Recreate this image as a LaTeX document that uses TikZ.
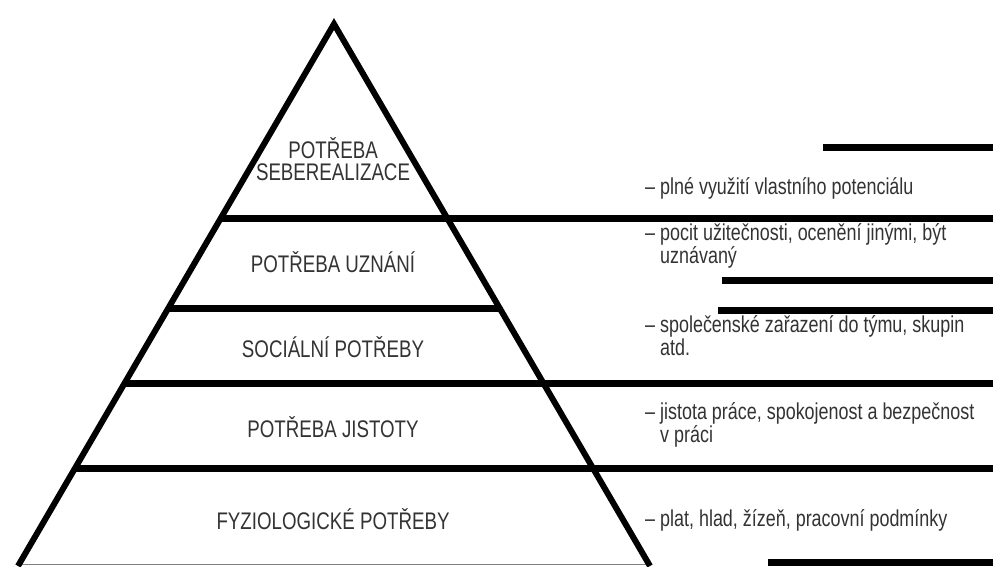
\documentclass[tikz,border=0pt]{standalone}
\usepackage{fontspec}
\setmainfont{Liberation Sans}[FakeStretch=0.78]
\begin{document}
\begin{tikzpicture}[x=1pt,y=-1pt,
    level/.style={font=\fontsize{24}{22}\selectfont, text=black!80, align=center, anchor=base, inner sep=0pt},
    note/.style={font=\fontsize{23}{18}\selectfont, text=black!80, align=left, anchor=base west, inner sep=0pt},
    bar/.style={line width=7pt}]
    \useasboundingbox (0,0) rectangle (993,566);

    % Pyramid
    \coordinate (top) at (334,24);
    \coordinate (bl) at (18,566);
    \coordinate (br) at (650,566);
    \draw[gray, line width=1.5pt] ([yshift=1.5pt]bl) -- ([yshift=1.5pt]br);
    \draw[line width=6pt, line join=miter] (bl) -- (top) -- (br);

    % Levels
    \foreach \y in {218,383,468}
        \draw[bar] ({334-0.583*(\y-24)},\y) -- (993,\y);
    \draw[bar] (168,308) -- (500,308);

    % Bars on the right
    \draw[bar] (823,147) -- (993,147);
    \draw[bar] (722,280) -- (993,280);
    \draw[bar] (718,310) -- (993,310);
    \draw[bar] (768,562) -- (993,562);

    % Needs (base = last line)
    \node[level] (self) at (333,180) {POTŘEBA\\SEBEREALIZACE};
    \node[level] (esteem) at (333,272) {POTŘEBA UZNÁNÍ};
    \node[level] (social) at (333,357) {SOCIÁLNÍ POTŘEBY};
    \node[level] (safety) at (333,437) {POTŘEBA JISTOTY};
    \node[level] (physio) at (333,529) {FYZIOLOGICKÉ POTŘEBY};

    % Descriptions
    \node[note] (selfnote) at (645,194) {– plné využití vlastního potenciálu};
    \node[note] (esteemnote) at (645,263) {– pocit užitečnosti, ocenění jinými, být\\\phantom{– }uznávaný};
    \node[note] (socialnote) at (645,355) {– společenské zařazení do týmu, skupin\\\phantom{– }atd.};
    \node[note] (safetynote) at (645,442) {– jistota práce, spokojenost a bezpečnost\\\phantom{– }v práci};
    \node[note] (physionote) at (645,526) {– plat, hlad, žízeň, pracovní podmínky};
\end{tikzpicture}
\end{document}
